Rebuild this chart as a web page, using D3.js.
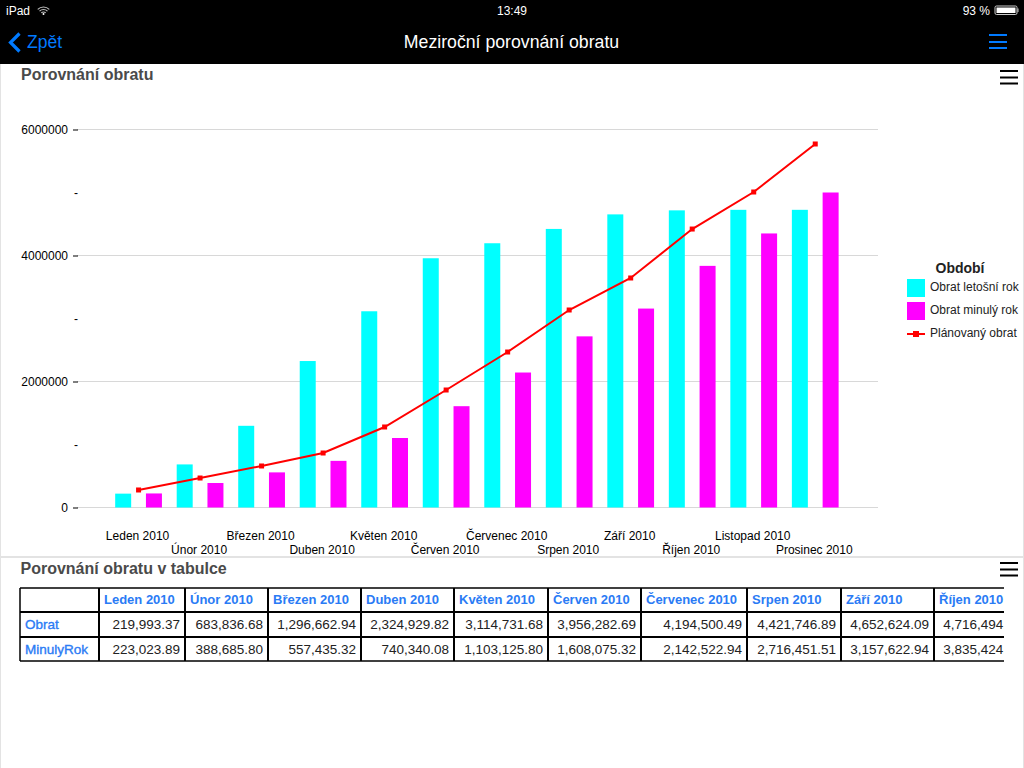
<!DOCTYPE html>
<html>
<head>
<meta charset="utf-8">
<script src="https://cdn.jsdelivr.net/npm/d3@7"></script>
<style>
  body { margin: 0; background: #fff; font-family: "Liberation Sans", sans-serif; }
  svg { display: block; }
</style>
</head>
<body>
<div id="chart"></div>
<script>
const months = ['Leden 2010', 'Únor 2010', 'Březen 2010', 'Duben 2010', 'Květen 2010', 'Červen 2010',
  'Červenec 2010', 'Srpen 2010', 'Září 2010', 'Říjen 2010', 'Listopad 2010', 'Prosinec 2010'];
const obrat = [219993.37, 683836.68, 1296662.94, 2324929.82, 3114731.68, 3956282.69,
  4194500.49, 4421746.89, 4652624.09, 4716494.30, 4725000, 4725000];
const minulyRok = [223023.89, 388685.80, 557435.32, 740340.08, 1103125.80, 1608075.32,
  2142522.94, 2716451.51, 3157622.94, 3835424.60, 4350000, 5000000];
const planovany = [278000, 468000, 659000, 865000, 1278000, 1865000,
  2468000, 3135000, 3643000, 4420000, 5008000, 5770000];
const yTicks = [0, 1000000, 2000000, 3000000, 4000000, 5000000, 6000000];
const yTickLabels = ['0', '-', '2000000', '-', '4000000', '-', '6000000'];
const seriesNames = ['Obrat letošní rok', 'Obrat minulý rok'];
const seriesColors = ['#00ffff', '#ff00ff'];
const tableMonths = months.slice(0, 10);
const tableColEdges = [20, 99, 185, 268, 361, 454, 548, 641, 747, 841, 934, 1027];
const tableRowEdges = [588, 612, 637, 661];

const width = 1024;
const height = 768;
const blue = '#007aff';
const linkBlue = '#2a7bf5';

const svg = d3.select('#chart')
  .append('svg')
  .attr('width', width)
  .attr('height', height)
  .attr('font-family', '"Liberation Sans", sans-serif');

// panel borders
svg.append('rect').attr('x', 0).attr('y', 64).attr('width', 1).attr('height', 704).attr('fill', '#e3e3e3');
svg.append('rect').attr('x', 1023).attr('y', 64).attr('width', 1).attr('height', 704).attr('fill', '#e3e3e3');
svg.append('rect').attr('x', 0).attr('y', 556).attr('width', 1024).attr('height', 2).attr('fill', '#e3e3e3');

// status and nav bar
const nav = svg.append('g');
nav.append('rect').attr('width', width).attr('height', 64).attr('fill', '#000');
nav.append('text').attr('x', 6).attr('y', 15).attr('fill', '#fff').attr('font-size', 12).text('iPad');
const wifi = nav.append('g').attr('transform', 'translate(43.5,15)').attr('fill', 'none').attr('stroke', '#bbb').attr('stroke-width', 1.2);
[3, 5.5, 8].forEach(r => {
  wifi.append('path').attr('d', d3.arc()({ innerRadius: r, outerRadius: r, startAngle: -0.8, endAngle: 0.8 }));
});
wifi.append('circle').attr('cy', -1).attr('r', 1).attr('fill', '#fff').attr('stroke', 'none');
nav.append('text').attr('x', 512).attr('y', 15).attr('text-anchor', 'middle').attr('fill', '#fff').attr('font-size', 12).text('13:49');
nav.append('text').attr('x', 990).attr('y', 15).attr('text-anchor', 'end').attr('fill', '#fff').attr('font-size', 12).text('93 %');
nav.append('rect').attr('x', 995).attr('y', 6).attr('width', 22).attr('height', 8.5).attr('rx', 1.5).attr('fill', 'none').attr('stroke', '#ccc');
nav.append('rect').attr('x', 996.5).attr('y', 7.5).attr('width', 19).attr('height', 5.5).attr('fill', '#fff');
nav.append('rect').attr('x', 1017.5).attr('y', 8.5).attr('width', 1).attr('height', 3.5).attr('fill', '#ccc');
nav.append('path').attr('d', 'M19.5,33.5 L10.5,42.5 L19.5,51.5').attr('fill', 'none').attr('stroke', blue).attr('stroke-width', 3.2);
nav.append('text').attr('x', 27).attr('y', 48).attr('fill', blue).attr('font-size', 17.5).text('Zpět');
nav.append('text').attr('x', 511.5).attr('y', 48).attr('text-anchor', 'middle').attr('fill', '#fff').attr('font-size', 17.7).text('Meziroční porovnání obratu');
[34, 41, 47].forEach(y => {
  nav.append('rect').attr('x', 989).attr('y', y).attr('width', 18).attr('height', 2).attr('fill', blue);
});

// hamburger menus and panel titles
[[1000, 70], [1000, 562]].forEach(([x, y]) => {
  [0, 6.5, 12.5].forEach(dy => {
    svg.append('rect').attr('x', x).attr('y', y + dy).attr('width', 18).attr('height', 2).attr('fill', '#000');
  });
});
svg.append('text').attr('x', 21).attr('y', 80).attr('font-size', 16).attr('font-weight', 'bold').attr('fill', '#4a4a4a').text('Porovnání obratu');
svg.append('text').attr('x', 20.5).attr('y', 574).attr('font-size', 16).attr('font-weight', 'bold').attr('fill', '#4a4a4a').text('Porovnání obratu v tabulce');

// scales
const x = d3.scaleBand().domain(months).range([107.8, 846]);
const xSeries = d3.scaleBand().domain(seriesNames).range([0, x.bandwidth()]).paddingInner(0.48).paddingOuter(0.24);
const y = d3.scaleLinear().domain([0, 6000000]).range([507.5, 129.5]);

// gridlines
svg.append('g')
  .selectAll('line')
  .data(yTicks.filter((d, i) => i % 2 === 0))
  .join('line')
  .attr('x1', 77)
  .attr('x2', 878)
  .attr('y1', d => y(d))
  .attr('y2', d => y(d))
  .attr('stroke', '#d8d8d8');

// axes
const yAxis = svg.append('g')
  .attr('transform', 'translate(78,0)')
  .call(d3.axisLeft(y).tickValues(yTicks).tickSize(5).tickPadding(0).tickFormat((d, i) => yTickLabels[i]));
yAxis.select('.domain').remove();
yAxis.selectAll('text')
  .attr('x', (d, i) => i % 2 === 0 ? -10 : 0)
  .attr('font-family', '"Liberation Sans", sans-serif')
  .attr('font-size', 12)
  .attr('fill', '#000');
yAxis.selectAll('.tick line').filter((d, i) => i % 2 === 1).remove();

const xAxis = svg.append('g')
  .attr('transform', 'translate(-1,507.5)')
  .call(d3.axisBottom(x).tickSize(0).tickPadding(0));
xAxis.select('.domain').remove();
xAxis.selectAll('text')
  .attr('y', (d, i) => i % 2 === 0 ? 32 : 46)
  .attr('dy', 0)
  .attr('font-family', '"Liberation Sans", sans-serif')
  .attr('font-size', 12)
  .attr('fill', '#000');

// bars
[obrat, minulyRok].forEach((values, s) => {
  svg.append('g')
    .attr('fill', seriesColors[s])
    .selectAll('rect')
    .data(values)
    .join('rect')
    .attr('x', (d, i) => x(months[i]) + xSeries(seriesNames[s]))
    .attr('y', d => y(d))
    .attr('width', xSeries.bandwidth())
    .attr('height', d => y(0) - y(d));
});

// plan line
const line = d3.line()
  .x((d, i) => x(months[i]) + x.bandwidth() / 2)
  .y(d => y(d));
svg.append('path')
  .datum(planovany)
  .attr('d', line)
  .attr('fill', 'none')
  .attr('stroke', '#ff0000')
  .attr('stroke-width', 2);
svg.append('g')
  .attr('fill', '#ff0000')
  .selectAll('rect')
  .data(planovany)
  .join('rect')
  .attr('x', (d, i) => x(months[i]) + x.bandwidth() / 2 - 2.5)
  .attr('y', d => y(d) - 2.5)
  .attr('width', 5)
  .attr('height', 5);

// legend
const legend = svg.append('g');
legend.append('text').attr('x', 960).attr('y', 273).attr('text-anchor', 'middle').attr('font-size', 14).attr('font-weight', 'bold').attr('fill', '#222').text('Období');
seriesNames.forEach((name, i) => {
  legend.append('rect').attr('x', 907).attr('y', 279 + i * 23).attr('width', 18).attr('height', 18).attr('fill', seriesColors[i]);
  legend.append('text').attr('x', 930).attr('y', 291 + i * 23).attr('font-size', 12).attr('fill', '#222').text(name);
});
legend.append('line').attr('x1', 907).attr('x2', 925).attr('y1', 334).attr('y2', 334).attr('stroke', '#ff0000').attr('stroke-width', 2);
legend.append('rect').attr('x', 913).attr('y', 331).attr('width', 6).attr('height', 6).attr('fill', '#ff0000');
legend.append('text').attr('x', 930).attr('y', 337).attr('font-size', 12).attr('fill', '#222').text('Plánovaný obrat');

// table, cut off at the right edge like the scrolling original
svg.append('clipPath').attr('id', 'table-clip').append('rect').attr('x', 0).attr('y', 580).attr('width', 1004).attr('height', 90);
const table = svg.append('g').attr('clip-path', 'url(#table-clip)');
const fmt = d3.format(',.2f');
const rows = [['Obrat', obrat], ['MinulyRok', minulyRok]];

table.selectAll('.col-head')
  .data(tableMonths)
  .join('text')
  .attr('class', 'col-head')
  .attr('x', (d, i) => tableColEdges[i + 1] + 5)
  .attr('y', 604)
  .attr('font-size', 13)
  .attr('font-weight', 'bold')
  .attr('fill', linkBlue)
  .text(d => d);

rows.forEach(([name, values], r) => {
  const yPos = tableRowEdges[r + 1] + 17;
  table.append('text').attr('x', 25).attr('y', yPos).attr('font-size', 13.5).attr('fill', linkBlue).attr('stroke', linkBlue).attr('stroke-width', 0.35).text(name);
  table.append('g')
    .selectAll('text')
    .data(tableMonths)
    .join('text')
    .attr('x', (d, i) => tableColEdges[i + 2] - 5)
    .attr('y', yPos)
    .attr('text-anchor', 'end')
    .attr('font-size', 13.5)
    .attr('fill', '#222')
    .text((d, i) => fmt(values[i]));
});

table.selectAll('.row-line')
  .data(tableRowEdges)
  .join('line')
  .attr('class', 'row-line')
  .attr('x1', 20)
  .attr('x2', 1027)
  .attr('y1', d => d)
  .attr('y2', d => d)
  .attr('stroke', '#000')
  .attr('stroke-width', (d, i) => i === 0 || i === 3 ? 1.5 : 2);
table.selectAll('.col-line')
  .data(tableColEdges)
  .join('line')
  .attr('class', 'col-line')
  .attr('x1', d => d)
  .attr('x2', d => d)
  .attr('y1', tableRowEdges[0])
  .attr('y2', tableRowEdges[3])
  .attr('stroke', '#000')
  .attr('stroke-width', (d, i) => i === 0 ? 1.5 : 2);
</script>
</body>
</html>
